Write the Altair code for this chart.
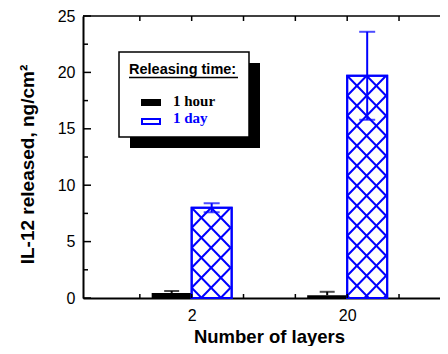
import math
import altair as alt
import pandas as pd

# ---- data ----
CATEGORIES = ["2", "20"]          # x tick labels (number of layers)
POSITIONS = [2, 5]                # slot of each category on the x axis
HOUR_VALUES = [0.45, 0.25]        # 1 hour release
HOUR_ERRORS = [0.17, 0.30]
DAY_VALUES = [8.0, 19.7]          # 1 day release
DAY_ERRORS = [0.4, 3.9]
Y_MAJOR = [0, 5, 10, 15, 20, 25]
Y_MINOR = [2.5, 7.5, 12.5, 17.5, 22.5]
X_TICKS = [1, 2, 3, 4, 5, 6]
SERIES = ["1 hour", "1 day"]
LEGEND_TITLE = "Releasing time:"

# ---- layout / style ----
W, H = 357, 282
XMAX, YMAX = 6.694, 25
BAR_PX = 40
HATCH_PX = 20
BLUE = "#0000ff"
SANS = "Liberation Sans"
SERIF = "Liberation Serif"

xscale = alt.Scale(domain=[0, XMAX], nice=False, zero=False)
yscale = alt.Scale(domain=[0, YMAX], nice=False)

label_expr = " : ".join(
    f"datum.value == {p} ? '{c}'" for p, c in zip(POSITIONS, CATEGORIES)
) + " : ''"

hour_df = pd.DataFrame({"pos": POSITIONS, "value": HOUR_VALUES, "err": HOUR_ERRORS})
hour_df["top"] = hour_df["value"] + hour_df["err"]
day_df = pd.DataFrame({"pos": POSITIONS, "value": DAY_VALUES, "err": DAY_ERRORS})
day_df["top"] = day_df["value"] + day_df["err"]
day_df["low"] = day_df["value"] - day_df["err"]

# cross-hatch segments inside the 1-day bars, derived from the bar values
XU = W / XMAX
YU = H / YMAX
rows = []
for bi, (p, v) in enumerate(zip(POSITIONS, DAY_VALUES)):
    hpx = v * YU
    m_lo = -int(math.ceil(BAR_PX / HATCH_PX)) - 1
    m_hi = int(math.ceil(hpx / HATCH_PX)) + 2
    for m in range(m_lo, m_hi + 1):
        c = m * HATCH_PX
        u0, u1 = max(0, -c), min(BAR_PX, hpx - c)
        if u1 - u0 > 0.5:
            rows.append(dict(x=p + u0 / XU, x2=p + u1 / XU,
                             y=v - (u0 + c) / YU, y2=v - (u1 + c) / YU))
        u0, u1 = max(0, c - hpx), min(BAR_PX, c)
        if u1 - u0 > 0.5:
            rows.append(dict(x=p + u0 / XU, x2=p + u1 / XU,
                             y=v - (c - u0) / YU, y2=v - (c - u1) / YU))
hatch_df = pd.DataFrame(rows)

one = pd.DataFrame({"a": [0]})

# ---- bars ----
hour_bars = alt.Chart(hour_df).mark_bar(size=BAR_PX, xOffset=-BAR_PX / 2, color="black").encode(
    x=alt.X("pos:Q", scale=xscale,
            axis=alt.Axis(values=POSITIONS, labelExpr=label_expr, ticks=False, grid=False,
                          domainColor="black", domainWidth=2, labelFontSize=16, labelFont=SANS,
                          labelColor="black", labelPadding=9, labelFlush=False,
                          title="Number of layers", titleFont=SANS, titleFontSize=18.5,
                          titleFontWeight="bold", titleColor="black", titleX=186, titleY=44,
                          titleAlign="center", titleBaseline="alphabetic", titleAnchor="start")),
    y=alt.Y("value:Q", scale=yscale,
            axis=alt.Axis(values=Y_MAJOR, ticks=False, grid=False, domainColor="black",
                          domainWidth=2, labelFontSize=16, labelFont=SANS, labelColor="black",
                          labelPadding=8, labelFlush=False,
                          title="IL-12 released, ng/cm²", titleFont=SANS, titleFontSize=19,
                          titleFontWeight="bold", titleColor="black", titleX=-56, titleY=148,
                          titleAngle=-90, titleAlign="center", titleBaseline="middle",
                          titleAnchor="start")),
)

day_bars = alt.Chart(day_df).mark_bar(size=BAR_PX, xOffset=BAR_PX / 2, fill="white",
                                      stroke=BLUE, strokeWidth=2).encode(
    x=alt.X("pos:Q", scale=xscale), y=alt.Y("value:Q", scale=yscale))

hatch = alt.Chart(hatch_df).mark_rule(color=BLUE, strokeWidth=2).encode(
    x=alt.X("x:Q", scale=xscale), x2="x2:Q",
    y=alt.Y("y:Q", scale=yscale), y2="y2:Q")

day_outline = alt.Chart(day_df).mark_bar(size=BAR_PX, xOffset=BAR_PX / 2, fillOpacity=0,
                                         stroke=BLUE, strokeWidth=2).encode(
    x=alt.X("pos:Q", scale=xscale), y=alt.Y("value:Q", scale=yscale))

# ---- error bars ----
hour_err = alt.Chart(hour_df).mark_rule(color="black", strokeWidth=2, xOffset=-BAR_PX / 2).encode(
    x=alt.X("pos:Q", scale=xscale), y=alt.Y("value:Q", scale=yscale), y2="top:Q")
hour_cap = alt.Chart(hour_df).mark_tick(color="black", orient="horizontal", size=15,
                                        thickness=2, xOffset=-BAR_PX / 2).encode(
    x=alt.X("pos:Q", scale=xscale), y=alt.Y("top:Q", scale=yscale))
day_err = alt.Chart(day_df).mark_rule(color=BLUE, strokeWidth=2, xOffset=BAR_PX / 2).encode(
    x=alt.X("pos:Q", scale=xscale), y=alt.Y("low:Q", scale=yscale), y2="top:Q")
day_cap_top = alt.Chart(day_df).mark_tick(color=BLUE, orient="horizontal", size=16,
                                          thickness=2, xOffset=BAR_PX / 2).encode(
    x=alt.X("pos:Q", scale=xscale), y=alt.Y("top:Q", scale=yscale))
day_cap_low = alt.Chart(day_df).mark_tick(color=BLUE, orient="horizontal", size=16,
                                          thickness=2, xOffset=BAR_PX / 2).encode(
    x=alt.X("pos:Q", scale=xscale), y=alt.Y("low:Q", scale=yscale))

# ---- frame and inward ticks ----
top_line = alt.Chart(one).mark_rule(color="black", strokeWidth=1.5).encode(
    x=alt.value(0), x2=alt.value(W), y=alt.value(0))
ymaj = alt.Chart(pd.DataFrame({"v": Y_MAJOR})).mark_rule(color="black", strokeWidth=1.5).encode(
    y=alt.Y("v:Q", scale=yscale), x=alt.value(0), x2=alt.value(8))
ymin = alt.Chart(pd.DataFrame({"v": Y_MINOR})).mark_rule(color="black", strokeWidth=1.5).encode(
    y=alt.Y("v:Q", scale=yscale), x=alt.value(0), x2=alt.value(5))
xtop = alt.Chart(pd.DataFrame({"v": X_TICKS})).mark_rule(color="black", strokeWidth=1.5).encode(
    x=alt.X("v:Q", scale=xscale), y=alt.value(0), y2=alt.value(5))
xbot = alt.Chart(pd.DataFrame({"v": X_TICKS})).mark_rule(color="black", strokeWidth=1.5).encode(
    x=alt.X("v:Q", scale=xscale), y=alt.value(H), y2=alt.value(H - 4))

# ---- legend box ----
shadow = alt.Chart(one).mark_rect(color="black").encode(
    x=alt.value(47), x2=alt.value(177), y=alt.value(47), y2=alt.value(132))
box = alt.Chart(one).mark_rect(fill="white", stroke="black", strokeWidth=1.5).encode(
    x=alt.value(36), x2=alt.value(166), y=alt.value(36), y2=alt.value(121))
leg_title = alt.Chart(one).mark_text(text=LEGEND_TITLE, font=SANS, fontSize=14.5, fontWeight="bold",
                                     align="left", baseline="alphabetic", color="black").encode(
    x=alt.value(46), y=alt.value(58))
underline = alt.Chart(one).mark_rule(color="black", strokeWidth=1.5).encode(
    x=alt.value(46), x2=alt.value(155), y=alt.value(61.5))
sw_hour = alt.Chart(one).mark_rect(color="black").encode(
    x=alt.value(58), x2=alt.value(78), y=alt.value(83), y2=alt.value(90))
sw_day = alt.Chart(one).mark_rect(fill="white", stroke=BLUE, strokeWidth=2).encode(
    x=alt.value(59), x2=alt.value(77), y=alt.value(103), y2=alt.value(108))
lab_hour = alt.Chart(one).mark_text(text=SERIES[0], font=SERIF, fontSize=15, fontWeight="bold",
                                    align="left", baseline="alphabetic", color="black").encode(
    x=alt.value(90), y=alt.value(90))
lab_day = alt.Chart(one).mark_text(text=SERIES[1], font=SERIF, fontSize=15, fontWeight="bold",
                                   align="left", baseline="alphabetic", color=BLUE).encode(
    x=alt.value(90), y=alt.value(107))

chart = alt.layer(
    hour_bars, day_bars, hatch, day_outline,
    hour_err, hour_cap, day_err, day_cap_top, day_cap_low,
    top_line, ymaj, ymin, xtop, xbot,
    shadow, box, leg_title, underline, sw_hour, sw_day, lab_hour, lab_day,
).properties(
    width=W, height=H,
    autosize=alt.AutoSizeParams(type="none"),
    padding={"left": 75, "top": 8, "right": 0, "bottom": 48},
    background="white",
).configure_view(stroke=None)

chart.save("out.html", embed_options={"renderer": "svg", "actions": False})
